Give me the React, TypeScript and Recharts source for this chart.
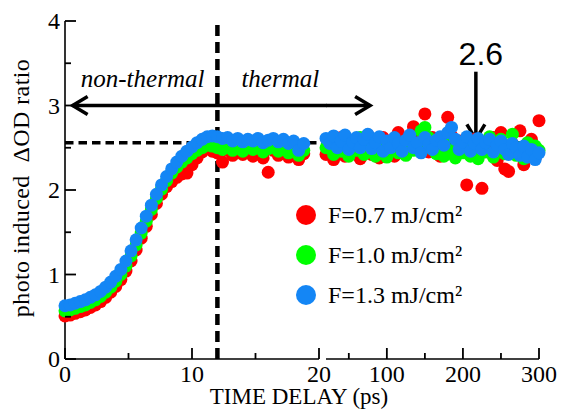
import React from "react";
import { Label, Legend, ReferenceLine, Scatter, ScatterChart, XAxis, YAxis } from "recharts";

// time delay (ps), 0-20 ps segment
const leftTimes = [
  0, 0.4, 0.8, 1.2, 1.6, 2, 2.4, 2.8, 3.2, 3.6, 4, 4.4, 4.8, 5.2, 5.6, 6, 6.4, 6.8, 7.2, 7.6, 8, 8.4, 8.8, 9.2,
  9.6, 10, 10.4, 10.8, 11.2, 11.6, 12, 12.4, 12.8, 13.2, 13.6, 14, 14.4, 14.8, 15.2, 15.6, 16, 16.4, 16.8, 17.2,
  17.6, 18, 18.4, 18.8,
];
const redLeft = [
  0.51, 0.52, 0.54, 0.56, 0.58, 0.61, 0.64, 0.68, 0.73, 0.79, 0.86, 0.94, 1.04, 1.16, 1.29, 1.43, 1.57, 1.71,
  1.84, 1.95, 2.04, 2.1, 2.15, 2.19, 2.2, 2.3, 2.38, 2.45, 2.49, 2.46, 2.44, 2.33, 2.47, 2.41, 2.46, 2.42, 2.48,
  2.4, 2.46, 2.38, 2.21, 2.47, 2.41, 2.46, 2.39, 2.45, 2.36, 2.43,
];
const greenLeft = [
  0.57, 0.58, 0.6, 0.62, 0.64, 0.67, 0.7, 0.74, 0.79, 0.85, 0.92, 1.0, 1.1, 1.22, 1.35, 1.49, 1.63, 1.77, 1.9,
  2.01, 2.11, 2.2, 2.27, 2.33, 2.38, 2.43, 2.47, 2.5, 2.53, 2.52, 2.5, 2.48, 2.51, 2.47, 2.5, 2.46, 2.51, 2.48,
  2.5, 2.45, 2.49, 2.52, 2.46, 2.5, 2.44, 2.49, 2.41, 2.47,
];
const blueLeft = [
  0.63, 0.64, 0.66, 0.68, 0.7, 0.73, 0.76, 0.8, 0.85, 0.91, 0.98, 1.06, 1.16, 1.28, 1.41, 1.55, 1.69, 1.82, 1.95,
  2.06, 2.16, 2.25, 2.33, 2.4, 2.46, 2.51, 2.56, 2.6, 2.63, 2.64, 2.63, 2.61, 2.62, 2.58, 2.61, 2.57, 2.6, 2.58,
  2.61, 2.56, 2.59, 2.61, 2.57, 2.6, 2.55, 2.58, 2.47, 2.55,
];

// time delay (ps), 20-300 ps segment
const rightTimes = [
  20, 25, 30, 35, 40, 45, 50, 55, 60, 65, 70, 75, 80, 85, 90, 95, 100, 105, 110, 115, 120, 125, 130, 135, 140,
  145, 150, 155, 160, 165, 170, 175, 180, 185, 190, 195, 200, 205, 210, 215, 220, 225, 230, 235, 240, 245, 250,
  255, 260, 265, 270, 275, 280, 285, 290, 295, 300,
];
const redRight = [
  2.42, 2.55, 2.36, 2.5, 2.62, 2.4, 2.53, 2.45, 2.6, 2.37, 2.5, 2.65, 2.42, 2.55, 2.38, 2.62, 2.45, 2.56, 2.4,
  2.68, 2.5, 2.42, 2.6, 2.75, 2.68, 2.55, 2.9, 2.45, 2.62, 2.5, 2.4, 2.56, 2.86, 2.64, 2.42, 2.58, 2.48, 2.06,
  2.52, 2.6, 2.4, 2.02, 2.55, 2.45, 2.62, 2.35, 2.68, 2.25, 2.22, 2.55, 2.42, 2.7, 2.3, 2.52, 2.6, 2.38, 2.82,
];
const greenRight = [
  2.5, 2.58, 2.42, 2.52, 2.46, 2.6, 2.4, 2.53, 2.47, 2.62, 2.42, 2.51, 2.57, 2.4, 2.49, 2.55, 2.39, 2.5, 2.58,
  2.44, 2.52, 2.41, 2.62, 2.47, 2.55, 2.7, 2.74, 2.62, 2.48, 2.43, 2.56, 2.4, 2.62, 2.47, 2.38, 2.53, 2.44, 2.6,
  2.4, 2.5, 2.37, 2.56, 2.45, 2.63, 2.39, 2.5, 2.6, 2.43, 2.52, 2.66, 2.41, 2.5, 2.37, 2.56, 2.44, 2.52, 2.47,
];
const blueRight = [
  2.61, 2.55, 2.64, 2.5, 2.58, 2.65, 2.48, 2.57, 2.62, 2.5, 2.6, 2.66, 2.49, 2.56, 2.63, 2.46, 2.58, 2.5, 2.62,
  2.55, 2.46, 2.59, 2.65, 2.5, 2.56, 2.44, 2.62, 2.54, 2.48, 2.59, 2.63, 2.53, 2.68, 2.74, 2.6, 2.48, 2.57, 2.63,
  2.46, 2.55, 2.61, 2.48, 2.56, 2.6, 2.45, 2.53, 2.58, 2.48, 2.42, 2.55, 2.5, 2.41, 2.52, 2.39, 2.48, 2.36, 2.44,
];

const seriesNames = ["F=0.7 mJ/cm²", "F=1.0 mJ/cm²", "F=1.3 mJ/cm²"];
const seriesColors = ["#ff0000", "#00ff00", "#1486f5"];

const yTicks = [0, 0.5, 1, 1.5, 2, 2.5, 3, 3.5, 4];
const yLabels = [0, 1, 2, 3, 4];
const leftXTicks = [0, 5, 10, 15, 20];
const leftXLabels = [0, 10, 20];
const rightXTicks = [50, 100, 150, 200, 250, 300];
const rightXLabels = [100, 200, 300];

const plateau = 2.56;
const crossoverPs = 12;
const regionLabels = ["non-thermal", "thermal"];
const regionArrowY = 3;
const regionArrowStart = 0.6;
const regionArrowEnd = 78;
const markPs = 217;
const markTop = 3.4;
const markValue = 2.6;

const SERIF = "'Liberation Serif', 'Times New Roman', serif";
const SANS = "'Liberation Sans', Arial, sans-serif";
const axisLine = { stroke: "#000", strokeWidth: 1.6 };

const toPoints = (times: number[], values: number[]) => times.map((t, i) => ({ t, v: values[i] }));
const leftSeries = [redLeft, greenLeft, blueLeft].map((vals) => toPoints(leftTimes, vals));
const rightSeries = [redRight, greenRight, blueRight].map((vals) => toPoints(rightTimes, vals));

type Side = "bottom" | "top" | "left" | "right";

// ticks point into the plot; majors are longer and may carry a label
const tickRenderer = (side: Side, majors: number[], withText: boolean) =>
  function Tick(props: any) {
    const { x, y, payload } = props;
    const v = payload.value;
    const major = majors.includes(v);
    const len = major ? 11 : 6;
    const dx = side === "left" ? len : side === "right" ? -len : 0;
    const dy = side === "bottom" ? -len : side === "top" ? len : 0;
    return (
      <g>
        <line x1={x} y1={y} x2={x + dx} y2={y + dy} stroke="#000" strokeWidth={1.8} />
        {withText && major && side === "bottom" && (
          <text x={x} y={y + 23} textAnchor="middle" fontFamily={SERIF} fontSize={24} fill="#000">
            {v}
          </text>
        )}
        {withText && major && side === "left" && (
          <text x={x - 5} y={y + 8} textAnchor="end" fontFamily={SERIF} fontSize={24} fill="#000">
            {v}
          </text>
        )}
      </g>
    );
  };

const arrowHead = (tx: number, ty: number, dir: number) => {
  const len = 15;
  const half = 9;
  const bx = tx - len * Math.cos(dir);
  const by = ty - len * Math.sin(dir);
  const px = -Math.sin(dir) * half;
  const py = Math.cos(dir) * half;
  return (
    <polyline
      points={`${bx + px},${by + py} ${tx},${ty} ${bx - px},${by - py}`}
      fill="none"
      stroke="#000"
      strokeWidth={3.5}
    />
  );
};

const arrowShape = (start: boolean, end: boolean, text?: string) =>
  function Arrow(props: any) {
    const { x1, y1, x2, y2 } = props;
    const ang = Math.atan2(y2 - y1, x2 - x1);
    return (
      <g>
        <line x1={x1} y1={y1} x2={x2} y2={y2} stroke="#000" strokeWidth={3.5} />
        {start && arrowHead(x1, y1, ang + Math.PI)}
        {end && arrowHead(x2, y2, ang)}
        {text && (
          <text x={x1 + 5} y={y1 - 7} textAnchor="middle" fontFamily={SANS} fontSize={32} fill="#000">
            {text}
          </text>
        )}
      </g>
    );
  };

const LegendContent = ({ payload }: any) => (
  <div>
    {(payload ?? []).map((entry: any) => (
      <div key={entry.value} style={{ display: "flex", alignItems: "center", height: 40 }}>
        <svg width={22} height={22}>
          <circle cx={11} cy={11} r={10} fill={entry.color} />
        </svg>
        <span style={{ marginLeft: 11, fontFamily: SERIF, fontSize: 24, color: "#000", whiteSpace: "pre" }}>
          {entry.value}
        </span>
      </div>
    ))}
  </div>
);

const dot = (color: string) => (p: any) => <circle cx={p.cx} cy={p.cy} r={6.5} fill={color} />;

export default function App() {
  return (
    <div style={{ position: "absolute", left: 0, top: 0, width: 565, height: 410, background: "#fff" }}>
      <style>{`.recharts-surface { overflow: visible; }`}</style>

      <div style={{ position: "absolute", left: 0, top: 0 }}>
        <ScatterChart width={330} height={410} margin={{ top: 21, right: 11, bottom: 0, left: 0 }}>
          {leftSeries.map((data, i) => (
            <Scatter
              key={seriesNames[i]}
              name={seriesNames[i]}
              data={data}
              fill={seriesColors[i]}
              shape={dot(seriesColors[i])}
              isAnimationActive={false}
            />
          ))}
          <XAxis
            type="number"
            dataKey="t"
            domain={[0, 20]}
            ticks={leftXTicks}
            interval={0}
            height={51}
            tickSize={0}
            tickMargin={0}
            tickLine={false}
            axisLine={axisLine}
            tick={tickRenderer("bottom", leftXLabels, true)}
          >
            <Label
              content={() => (
                <text x={299} y={404} textAnchor="middle" fontFamily={SERIF} fontSize={23} fill="#000">
                  TIME DELAY (ps)
                </text>
              )}
            />
          </XAxis>
          <XAxis
            xAxisId="top"
            orientation="top"
            type="number"
            domain={[0, 20]}
            ticks={leftXTicks}
            interval={0}
            height={0}
            tickSize={0}
            tickMargin={0}
            tickLine={false}
            axisLine={axisLine}
            tick={tickRenderer("top", leftXLabels, false)}
          />
          <YAxis
            type="number"
            dataKey="v"
            domain={[0, 4]}
            ticks={yTicks}
            interval={0}
            width={65}
            tickSize={0}
            tickMargin={0}
            tickLine={false}
            axisLine={axisLine}
            tick={tickRenderer("left", yLabels, true)}
          >
            <Label
              content={(p: any) => {
                const vb = p.viewBox ?? { y: 21, height: 338 };
                const cy = vb.y + vb.height / 2 - 2;
                return (
                  <text
                    x={29}
                    y={cy}
                    transform={`rotate(-90 29 ${cy})`}
                    textAnchor="middle"
                    fontFamily={SERIF}
                    fontSize={24}
                    letterSpacing={0.4}
                    fill="#000"
                    style={{ whiteSpace: "pre" }}
                  >
                    photo induced  ΔOD ratio
                  </text>
                );
              }}
            />
          </YAxis>
          <ReferenceLine
            segment={[
              { x: 0, y: plateau },
              { x: 20.6, y: plateau },
            ]}
            ifOverflow="visible"
            stroke="#000"
            strokeWidth={3.5}
            strokeDasharray="8.5 5"
          />
          <ReferenceLine x={crossoverPs} stroke="#000" strokeWidth={4.5} strokeDasharray="11 6">
            <Label
              content={(p: any) => {
                const x = p.viewBox?.x ?? 0;
                return (
                  <g fontFamily={SERIF} fontSize={25} fontStyle="italic" fill="#000">
                    <text x={x - 13} y={87} textAnchor="end">
                      {regionLabels[0]}
                    </text>
                    <text x={x + 24} y={87} textAnchor="start">
                      {regionLabels[1]}
                    </text>
                  </g>
                );
              }}
            />
          </ReferenceLine>
          <ReferenceLine
            segment={[
              { x: regionArrowStart, y: regionArrowY },
              { x: 20.6, y: regionArrowY },
            ]}
            ifOverflow="visible"
            shape={arrowShape(true, false)}
          />
          <Legend
            layout="horizontal"
            verticalAlign="middle"
            align="center"
            content={<LegendContent />}
            wrapperStyle={{ left: 295, top: 195, width: 230, height: 120 }}
          />
        </ScatterChart>
      </div>

      <div style={{ position: "absolute", left: 315, top: 0 }}>
        <ScatterChart width={250} height={410} margin={{ top: 21, right: 26, bottom: 0, left: 11 }}>
          {rightSeries.map((data, i) => (
            <Scatter
              key={seriesNames[i]}
              name={seriesNames[i]}
              data={data}
              fill={seriesColors[i]}
              shape={dot(seriesColors[i])}
              isAnimationActive={false}
            />
          ))}
          <XAxis
            type="number"
            dataKey="t"
            domain={[20, 300]}
            ticks={rightXTicks}
            interval={0}
            height={51}
            tickSize={0}
            tickMargin={0}
            tickLine={false}
            axisLine={axisLine}
            tick={tickRenderer("bottom", rightXLabels, true)}
          />
          <XAxis
            xAxisId="top"
            orientation="top"
            type="number"
            domain={[20, 300]}
            ticks={rightXTicks}
            interval={0}
            height={0}
            tickSize={0}
            tickMargin={0}
            tickLine={false}
            axisLine={axisLine}
            tick={tickRenderer("top", rightXLabels, false)}
          />
          <YAxis
            orientation="right"
            type="number"
            dataKey="v"
            domain={[0, 4]}
            ticks={yTicks}
            interval={0}
            width={0}
            tickSize={0}
            tickMargin={0}
            tickLine={false}
            axisLine={axisLine}
            tick={tickRenderer("right", yLabels, false)}
          />
          <ReferenceLine
            segment={[
              { x: 20, y: plateau },
              { x: 300, y: plateau },
            ]}
            stroke="#000"
            strokeWidth={3.5}
            strokeDasharray="8.5 5"
          />
          <ReferenceLine
            segment={[
              { x: 20, y: regionArrowY },
              { x: regionArrowEnd, y: regionArrowY },
            ]}
            shape={arrowShape(false, true)}
          />
          <ReferenceLine
            segment={[
              { x: markPs, y: markTop },
              { x: markPs, y: markValue },
            ]}
            shape={arrowShape(false, true, String(markValue))}
          />
        </ScatterChart>
      </div>
    </div>
  );
}
